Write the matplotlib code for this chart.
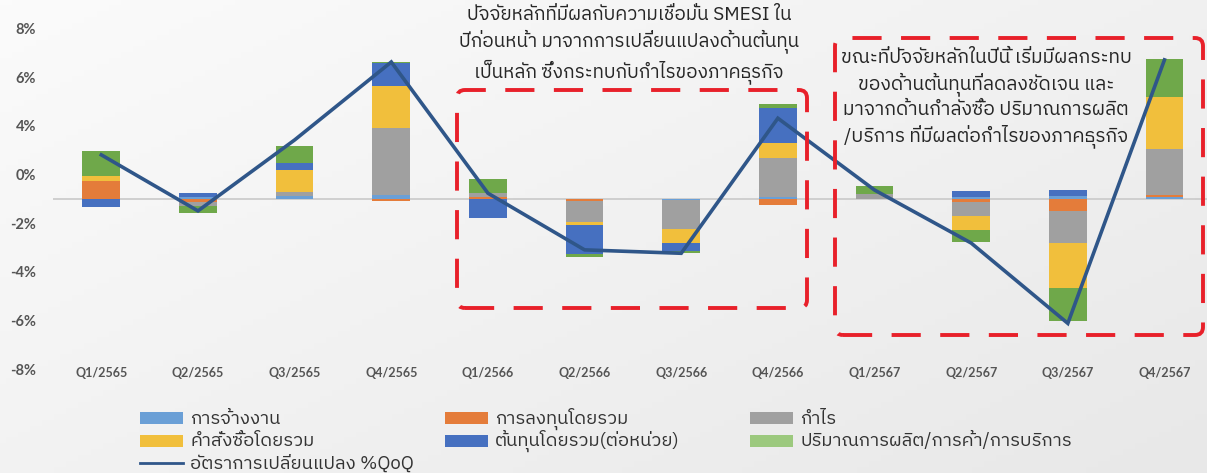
import numpy as np
import matplotlib
matplotlib.use('Agg')
import matplotlib.pyplot as plt
from matplotlib import font_manager
from matplotlib.ft2font import FT2Font
from matplotlib.patches import FancyBboxPatch, Rectangle
from matplotlib.lines import Line2D

# --- data (% contribution, QoQ) ---
quarters = ['Q1/2565', 'Q2/2565', 'Q3/2565', 'Q4/2565',
            'Q1/2566', 'Q2/2566', 'Q3/2566', 'Q4/2566',
            'Q1/2567', 'Q2/2567', 'Q3/2567', 'Q4/2567']

employment = [0.00, 0.10, 0.15, 0.19, 0.00, 0.00, -0.05, 0.07, 0.00, 0.10, 0.12, 0.10]
investment = [0.86, -0.15, 0.00, -0.08, 0.10, -0.10, 0.00, -0.30, 0.00, -0.16, -0.55, 0.10]
profit = [0.00, -0.19, 0.20, 3.13, 0.20, -0.97, -1.38, 1.83, 0.23, -0.66, -1.52, 2.13]
orders = [0.23, 0.00, 1.00, 1.97, 0.00, -0.17, -0.63, 0.73, 0.00, -0.66, -2.13, 2.46]
cost = [-0.40, 0.16, 0.36, 1.07, -0.90, -1.35, -0.39, 1.66, 0.00, 0.28, 0.31, 0.00]
volume = [1.14, -0.33, 0.78, 0.09, 0.66, -0.15, -0.08, 0.15, 0.36, -0.56, -1.52, 1.76]

qoq_change = [2.07, -0.56, 2.77, 6.43, 0.27, -2.39, -2.55, 3.79, 0.42, -2.07, -5.84, 6.53]

series_names = ['การจ้างงาน', 'การลงทุนโดยรวม', 'กำไร',
                'คำสั่งซื้อโดยรวม', 'ต้นทุนโดยรวม(ต่อหน่วย)',
                'ปริมาณการผลิต/การค้า/การบริการ']
line_name = 'อัตราการเปลี่ยนแปลง %QoQ'

# y tick labels as printed on the original (evenly spaced, mislabelled)
ytick_labels = ['8%', '6%', '4%', '0%', '-2%', '-4%', '-6%', '-8%']

note_left = 'ปัจจัยหลักที่มีผลกับความเชื่อมั่น SMESI ใน\nปีก่อนหน้า มาจากการเปลี่ยนแปลงด้านต้นทุน\nเป็นหลัก ซึ่งกระทบกับกำไรของภาคธุรกิจ'
note_right = 'ขณะที่ปัจจัยหลักในปีนี้ เริ่มมีผลกระทบ\nของด้านต้นทุนที่ลดลงชัดเจน และ\nมาจากด้านกำลังซื้อ ปริมาณการผลิต\n/บริการ ที่มีผลต่อกำไรของภาคธุรกิจ'

colors = ['#6a9fd6', '#e47c3a', '#a0a0a0', '#f1bf3c', '#4670c0', '#6fa84a']
legend_colors = ['#6a9fd6', '#e47c3a', '#a0a0a0', '#f1bf3c', '#4670c0', '#9cc97e']
line_color = '#2f5689'


# find an installed font that can draw Thai
def find_thai_font():
    found = []
    for f in font_manager.fontManager.ttflist:
        try:
            if 0x0E01 in FT2Font(f.fname).get_charmap():
                found.append(f.name)
        except Exception:
            pass
    for name in found:
        if 'Sans' in name and 'Mono' not in name:
            return name
    return found[0] if found else 'DejaVu Sans'


thai_font = find_thai_font()
plt.rcParams['font.family'] = [thai_font, 'Lato', 'DejaVu Sans']

W, H = 1207, 473
fig = plt.figure(figsize=(W / 100, H / 100), dpi=100)

# soft grey gradient background
bg = fig.add_axes([0, 0, 1, 1], zorder=-10)
gx, gy = np.meshgrid(np.linspace(0, 1, 200), np.linspace(0, 1, 80))
bg.imshow(0.55 * gx + 0.45 * gy, cmap=matplotlib.colors.LinearSegmentedColormap.from_list(
    'bg', ['#fbfbfb', '#e8e8e8']), aspect='auto', extent=[0, 1, 0, 1], origin='upper')
bg.axis('off')

# axes placed so that 0 sits at y=199px and 1% = 21.3px
ax = fig.add_axes([53 / W, (H - 371.5) / H, 1154 / W, (371.5 - 17.9) / H])
ax.set_facecolor('none')
ax.set_xlim(-0.5, 11.44)
ax.set_ylim(-8.1, 8.5)

x = np.arange(len(quarters))
data = np.array([employment, investment, profit, orders, cost, volume])
pos_bottom = np.zeros(len(quarters))
neg_bottom = np.zeros(len(quarters))
for vals, c in zip(data, colors):
    pos = np.where(vals > 0, vals, 0)
    neg = np.where(vals < 0, vals, 0)
    ax.bar(x, pos, bottom=pos_bottom, width=0.39, color=c, zorder=2)
    ax.bar(x, neg, bottom=neg_bottom, width=0.39, color=c, zorder=2)
    pos_bottom += pos
    neg_bottom += neg

ax.axhline(0, color='#c9c9c9', lw=1.2, zorder=1)
ax.plot(x, qoq_change, color=line_color, lw=2.6, zorder=3, solid_joinstyle='miter')

for s in ax.spines.values():
    s.set_visible(False)
ax.set_xticks(x)
ax.set_xticklabels(quarters, fontsize=9, fontweight='bold', color='#555555', family=['Lato', 'DejaVu Sans'])
ax.set_yticks(np.linspace(8, -8, 8))
ax.set_yticklabels(ytick_labels, fontsize=10.5, fontweight='bold', color='#555555', family=['Lato', 'DejaVu Sans'])
ax.tick_params(length=0)
ax.tick_params(axis='x', pad=-3)
ax.tick_params(axis='y', pad=12)

# dashed call-out boxes and notes
for x0, y0, x1, y1 in [(457, 90, 807, 308), (835, 38, 1203, 335)]:
    box = FancyBboxPatch((x0, H - y1), x1 - x0, y1 - y0, transform=None,
                         boxstyle='round,pad=0,rounding_size=8', fill=False,
                         edgecolor='#e8202a', lw=2.8, linestyle=(0, (7.5, 5)), zorder=5)
    fig.patches.append(box)

fig.text(629 / W, 1 - 45 / H, note_left, ha='center', va='center',
         fontsize=13.7, color='#262626', linespacing=1.3)
fig.text(986 / W, 1 - 98.5 / H, note_right, ha='center', va='center',
         fontsize=13.9, color='#262626', linespacing=1.33)

# legend laid out row by row (3 columns), fixed pixel grid
col_x = [140, 445, 750]
row_y = [418, 440.5, 463]
items = [(legend_colors[i], series_names[i]) for i in range(6)] + [(None, line_name)]
for k, (c, label) in enumerate(items):
    hx, hy = col_x[k % 3], row_y[k // 3]
    if c is None:
        fig.lines.append(Line2D([hx, hx + 43], [H - hy, H - hy], transform=None,
                                color=line_color, lw=2))
    else:
        fig.patches.append(Rectangle((hx, H - hy - 6), 43, 12, transform=None,
                                     facecolor=c, edgecolor='none'))
    fig.text((hx + 50) / W, (H - hy - 5.5) / H, label, ha='left', va='baseline',
             fontsize=13.3, color='#333333')

fig.savefig('out.png', dpi=100)
